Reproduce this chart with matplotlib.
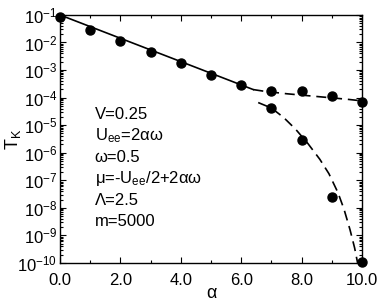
import matplotlib
matplotlib.use("Agg")
import matplotlib.pyplot as plt
from matplotlib.ticker import MultipleLocator, LogLocator, NullFormatter
import numpy as np

plt.rcParams["font.family"] = ["Liberation Sans", "DejaVu Sans"]
plt.rcParams["mathtext.fontset"] = "custom"
plt.rcParams["mathtext.rm"] = "Liberation Sans"
plt.rcParams["mathtext.it"] = "Liberation Sans:italic"

# data points (alpha, log10 T_K)
alpha_pts = [0, 1, 2, 3, 4, 5, 6]
logT_pts = [-1.08, -1.54, -1.94, -2.34, -2.74, -3.18, -3.54]
alpha_up = [7, 8, 9, 10]
logT_up = [-3.76, -3.75, -3.96, -4.17]
alpha_lo = [7, 8, 9, 10]
logT_lo = [-4.36, -5.54, -7.59, -9.95]

# fitted curves
alpha_solid = [0.0, 6.4]
logT_solid = [-1.0, -3.71]
alpha_dash_up = [6.4, 6.7, 7.0, 7.5, 8.0, 8.5, 9.0, 9.5, 10.0]
logT_dash_up = [-3.71, -3.76, -3.80, -3.86, -3.91, -3.96, -4.01, -4.06, -4.12]
alpha_dash_lo = [6.56, 7.0, 7.4, 7.8, 8.2, 8.6, 8.9, 9.2, 9.4, 9.6, 9.75, 9.85]
logT_dash_lo = [-4.18, -4.38, -4.72, -5.15, -5.66, -6.24, -6.76, -7.45, -8.05, -8.8, -9.45, -10.0]

params = ["V=0.25", r"U$_{\mathregular{ee}}$=2αω", "ω=0.5",
          r"μ=-U$_{\mathregular{ee}}$/2+2αω", "Λ=2.5", "m=5000"]

fig = plt.figure(figsize=(3.82, 3.05), dpi=100)
ax = fig.add_axes([0.157, 0.138, 0.791, 0.813])

p = lambda v: 10.0 ** np.array(v)
ax.plot(alpha_solid, p(logT_solid), color="black", lw=1.2)
ax.plot(alpha_dash_up, p(logT_dash_up), color="black", lw=1.2, dashes=(6, 3.5))
ax.plot(alpha_dash_lo, p(logT_dash_lo), color="black", lw=1.2, dashes=(6, 3.5))
for a, l in [(alpha_pts, logT_pts), (alpha_up, logT_up), (alpha_lo, logT_lo)]:
    ax.plot(a, p(l), "o", color="black", ms=6.5, clip_on=False, zorder=5)

ax.set_yscale("log")
ax.set_xlim(0, 10)
ax.set_ylim(1e-10, 1e-1)
ax.xaxis.set_major_locator(MultipleLocator(2))
ax.xaxis.set_minor_locator(MultipleLocator(1))
ax.set_xticklabels([f"{v:.1f}" for v in ax.get_xticks()])
ax.yaxis.set_major_locator(LogLocator(base=10, numticks=20))
ax.yaxis.set_minor_locator(LogLocator(base=10, subs=np.arange(2, 10), numticks=20))
ax.yaxis.set_minor_formatter(NullFormatter())
ax.tick_params(which="both", direction="in", top=True, right=True, width=0.8)
ax.tick_params(which="major", length=4)
ax.tick_params(which="minor", length=2.5)
ax.tick_params(axis="x", labelsize=12, pad=7)
ax.tick_params(axis="y", labelsize=12, pad=2)
for s in ax.spines.values():
    s.set_linewidth(1.0)

ax.set_xlabel("α", fontsize=13, labelpad=-2)
ax.set_ylabel(r"T$_{\mathregular{K}}$", fontsize=13, labelpad=-4)

for i, t in enumerate(params):
    ax.text(0.115, 0.60 - i * 0.087, t, transform=ax.transAxes, fontsize=12, va="center")

fig.savefig("out.png", dpi=100)
